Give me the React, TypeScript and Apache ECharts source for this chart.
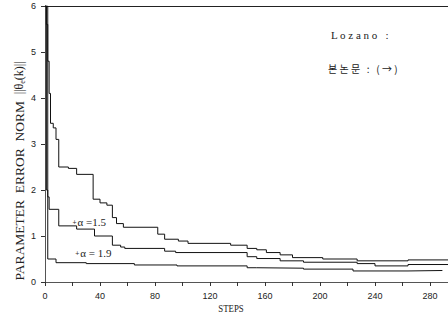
import React, { useEffect, useRef } from "react";
import * as echarts from "echarts";

// Unlabelled upper curve
const topSteps = [0, 1, 2, 3, 4, 6, 8, 10, 17, 23, 35, 40, 45, 49, 52, 57, 82, 87, 97, 104, 135, 147, 154, 161, 171, 180, 202, 227, 264, 300];
const topValues = [6, 5.6, 4.8, 4.1, 3.45, 3.35, 3.1, 2.5, 2.47, 2.34, 1.8, 1.72, 1.67, 1.4, 1.27, 1.19, 1.04, 0.93, 0.89, 0.84, 0.8, 0.73, 0.7, 0.64, 0.59, 0.53, 0.5, 0.46, 0.48, 0.48];

// alpha = 1.5
const midSteps = [0, 1, 2, 3, 10, 23, 36, 49, 55, 58, 87, 95, 147, 154, 171, 188, 227, 240, 264, 300];
const midValues = [6, 2.0, 1.85, 1.58, 1.22, 1.15, 1.0, 0.8, 0.76, 0.73, 0.67, 0.64, 0.55, 0.51, 0.46, 0.43, 0.4, 0.35, 0.38, 0.38];

// alpha = 1.9
const lowSteps = [0, 2, 8, 30, 65, 96, 147, 154, 188, 224, 264, 289];
const lowValues = [6, 0.5, 0.42, 0.4, 0.37, 0.35, 0.31, 0.3, 0.28, 0.24, 0.25, 0.25];

const curveLabels = ["α =1.5", "α = 1.9"];
const curveLabelAt = [
  [20, 1.3],
  [22, 0.63],
];

const yTitle = "PARAMETER  ERROR  NORM";
const xTitle = "STEPS";
const legendLine1 = "L o z a n o   :";
const legendLine2 = "본 논 문   :   ( → )";

export default function App() {
  const ref = useRef<HTMLDivElement>(null);
  useEffect(() => {
    const chart = echarts.init(ref.current!, null, { renderer: "svg" });
    const serif = "'Liberation Serif', 'DejaVu Serif', serif";
    const sans = "'Liberation Sans', Arial, sans-serif";
    const pairs = (s: number[], v: number[]) => s.map((x, i) => [x, v[i]]);
    const lineSeries = (name: string, data: number[][]) => ({
      type: "line",
      name,
      data,
      step: "end",
      symbol: "none",
      silent: true,
      lineStyle: { color: "#111", width: 1 },
    });
    chart.setOption({
      animation: false,
      grid: { left: 45, top: 6, right: -9.5, bottom: 40, containLabel: false, outerBoundsMode: "none" },
      xAxis: [
        {
          type: "value",
          min: 0,
          max: 300,
          interval: 40,
          axisLine: { lineStyle: { color: "#555", width: 1 } },
          axisTick: { show: true, length: 4, lineStyle: { color: "#333" } },
          minorTick: { show: true, splitNumber: 2, length: 4, lineStyle: { color: "#333" } },
          splitLine: { show: false },
          axisLabel: { fontSize: 9, color: "#222", margin: 9, showMaxLabel: false, fontFamily: sans },
        },
        {
          type: "value",
          position: "top",
          min: 0,
          max: 300,
          axisLine: { show: true, lineStyle: { color: "#222", width: 1 } },
          axisTick: { show: false },
          axisLabel: { show: false },
          splitLine: { show: false },
        },
      ],
      yAxis: {
        type: "value",
        min: 0,
        max: 6,
        interval: 1,
        axisLine: { show: true, lineStyle: { color: "#555", width: 1 } },
        axisTick: { show: true, length: 4, lineStyle: { color: "#333" } },
        splitLine: { show: false },
        axisLabel: { fontSize: 9, color: "#222", margin: 9, fontFamily: sans },
      },
      series: [
        lineSeries("top", pairs(topSteps, topValues)),
        lineSeries("α=1.5", pairs(midSteps, midValues)),
        lineSeries("α=1.9", pairs(lowSteps, lowValues)),
      ],
    });

    const labelGraphics = curveLabels.map((t, i) => {
      const p = chart.convertToPixel({ gridIndex: 0 }, curveLabelAt[i]) as number[];
      return {
        type: "text",
        x: p[0],
        y: p[1],
        style: {
          text: "{p|+}{t|" + t + "}",
          verticalAlign: "middle",
          align: "left",
          rich: {
            p: { fontSize: 7, fontFamily: sans, fill: "#333", padding: [0, 1, 0, 0] },
            t: { fontSize: 11, fontFamily: serif, fill: "#222" },
          },
        },
      };
    });

    chart.setOption({
      graphic: [
        ...labelGraphics,
        {
          type: "text",
          x: 19,
          y: 171,
          rotation: Math.PI / 2,
          style: {
            text: "{a|" + yTitle + "}  {b|||θ}{s|e}{b|(k)||}",
            align: "center",
            verticalAlign: "middle",
            rich: {
              a: { fontSize: 13.5, fontFamily: serif, fill: "#222" },
              b: { fontSize: 12, fontFamily: serif, fill: "#222" },
              s: { fontSize: 8, fontFamily: serif, fill: "#222", padding: [6, 0, 0, 0] },
            },
          },
        },
        {
          type: "text",
          x: 231,
          y: 308,
          scaleX: 0.8,
          style: {
            text: xTitle,
            align: "center",
            verticalAlign: "middle",
            fontSize: 11,
            fontFamily: serif,
            fill: "#222",
          },
        },
        {
          type: "text",
          x: 331,
          y: 35,
          style: {
            text: legendLine1,
            align: "left",
            verticalAlign: "middle",
            fontSize: 11,
            fontFamily: serif,
            fill: "#222",
          },
        },
        {
          type: "text",
          x: 328,
          y: 68,
          style: {
            text: legendLine2,
            align: "left",
            verticalAlign: "middle",
            fontSize: 10,
            fontFamily: "'Noto Sans CJK KR', sans-serif",
            fill: "#222",
          },
        },
      ],
    });
    return () => chart.dispose();
  }, []);
  return <div ref={ref} style={{ position: "absolute", left: 0, top: 0, width: 448, height: 322 }} />;
}
